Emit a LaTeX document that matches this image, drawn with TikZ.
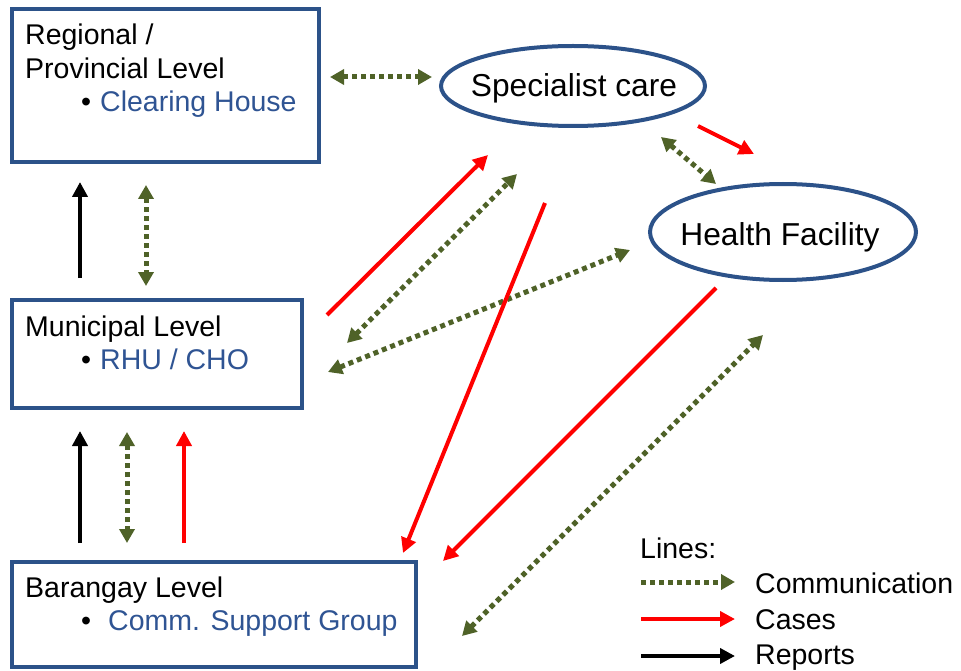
\documentclass[tikz,border=0pt]{standalone}
\usepackage{fontspec}
\setmainfont{Liberation Sans}
\usetikzlibrary{arrows.meta,shapes.geometric}
\definecolor{boxblue}{HTML}{2C5289}
\definecolor{txtblue}{HTML}{2F5493}
\definecolor{comgreen}{HTML}{4F6228}
\definecolor{casered}{HTML}{FF0000}
\tikzset{
  levelbox/.style={draw=boxblue, line width=4pt, rectangle, inner sep=0pt},
  carenode/.style={draw=boxblue, line width=4pt, ellipse, inner sep=0pt},
  txt/.style={inner sep=0pt, font=\fontsize{28.5}{33}\selectfont},
  bigtxt/.style={inner sep=0pt, font=\fontsize{31.7}{36}\selectfont},
  lbl/.style={txt, anchor=base west},
  blu/.style={lbl, text=txtblue},
  comm/.style={comgreen, line width=5pt, dash pattern=on 5pt off 4pt,
    {Triangle[length=14pt,width=15pt]}-{Triangle[length=14pt,width=15pt]}},
  commone/.style={comgreen, line width=5pt, dash pattern=on 5pt off 4pt,
    -{Triangle[length=14pt,width=15pt]}},
  cases/.style={casered, line width=4pt, -{Triangle[length=15pt,width=15pt]}},
  reports/.style={black, line width=4pt, -{Triangle[length=15pt,width=15pt]}},
}
\begin{document}
\begin{tikzpicture}[x=1pt,y=-1pt]
\path[use as bounding box] (0,0) rectangle (961,671);

% level boxes
\node[levelbox, minimum width=307pt, minimum height=153pt] (reg) at (165.5,85.5) {};
\node[levelbox, minimum width=290pt, minimum height=108pt] (mun) at (157,354) {};
\node[levelbox, minimum width=404pt, minimum height=105pt] (bar) at (214,614.5) {};

% level texts
\node[lbl] (regt1) at (25,45) {Regional /};
\node[lbl] (regt2) at (25,79) {Provincial Level};
\node[lbl] (regb) at (81,112) {\textbullet};
\node[blu] (regt3) at (100,112) {Clearing House};

\node[lbl] (munt1) at (25,336) {Municipal Level};
\node[lbl] (munb) at (81,369) {\textbullet};
\node[blu] (munt2) at (100,369) {RHU / CHO};

\node[lbl] (bart1) at (25,597) {Barangay Level};
\node[lbl] (barb) at (81,630) {\textbullet};
\node[blu] (bart2) at (108,630) {Comm. Support Group};

% care ellipses
\node[carenode, minimum width=264pt, minimum height=80pt] (spec) at (573,86) {};
\node[bigtxt] (spect) at (574,88) {Specialist care};
\node[carenode, minimum width=266pt, minimum height=96pt] (hf) at (783,232) {};
\node[bigtxt] (hft) at (780,237) {Health Facility};

% connector end points
\coordinate (a1) at (330,77);   \coordinate (a2) at (432,77);
\coordinate (b1) at (80,278);   \coordinate (b2) at (80,182);
\coordinate (c1) at (146,185);  \coordinate (c2) at (146,286);
\coordinate (d1) at (80,543);   \coordinate (d2) at (80,431);
\coordinate (e1) at (127,432);  \coordinate (e2) at (127,543);
\coordinate (f1) at (184,543);  \coordinate (f2) at (184,431);
\coordinate (g1) at (327,315);  \coordinate (g2) at (488,155);
\coordinate (h1) at (347,343);  \coordinate (h2) at (517,174);
\coordinate (i1) at (328,372);  \coordinate (i2) at (630,250);
\coordinate (j1) at (545,203);  \coordinate (j2) at (403,553);
\coordinate (k1) at (716,288);  \coordinate (k2) at (443,561);
\coordinate (l1) at (462,636);  \coordinate (l2) at (763,335);
\coordinate (m1) at (698,126);  \coordinate (m2) at (754,154);
\coordinate (n1) at (661,137);  \coordinate (n2) at (716,184);

\draw[comm] (a1) -- (a2);
\draw[reports] (b1) -- (b2);
\draw[comm] (c1) -- (c2);
\draw[reports] (d1) -- (d2);
\draw[comm] (e1) -- (e2);
\draw[cases] (f1) -- (f2);
\draw[cases] (g1) -- (g2);
\draw[comm] (h1) -- (h2);
\draw[comm] (i1) -- (i2);
\draw[cases] (j1) -- (j2);
\draw[cases] (k1) -- (k2);
\draw[comm] (l1) -- (l2);
\draw[cases] (m1) -- (m2);
\draw[comm] (n1) -- (n2);

% legend
\node[lbl] (leg) at (640,558) {Lines:};
\coordinate (lc1) at (641,582); \coordinate (lc2) at (735,582);
\coordinate (lr1) at (641,619); \coordinate (lr2) at (735,619);
\coordinate (lk1) at (641,656); \coordinate (lk2) at (735,656);
\draw[commone] (lc1) -- (lc2);
\draw[cases] (lr1) -- (lr2);
\draw[reports] (lk1) -- (lk2);
\node[lbl] (legc) at (755,593) {Communication};
\node[lbl] (legr) at (755,629) {Cases};
\node[lbl] (legk) at (755,664) {Reports};
\end{tikzpicture}
\end{document}
